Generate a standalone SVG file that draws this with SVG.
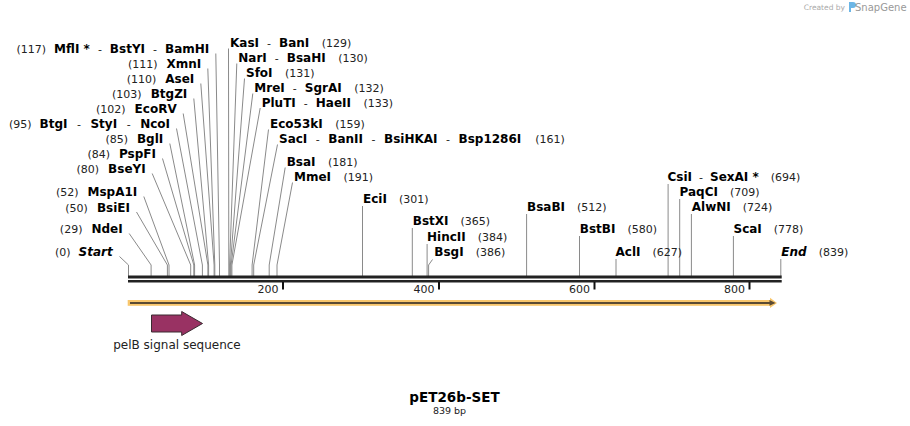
<svg xmlns="http://www.w3.org/2000/svg" width="910" height="426" viewBox="0 0 910 426">
<style>
text{font-family:"DejaVu Sans",Verdana,sans-serif;font-size:11px;fill:#222}
.b{font-weight:bold;font-size:12px;fill:#000}
.i{font-style:italic}
.c{fill:none;stroke:#8a8a8a;stroke-width:1}
.tk{stroke:#111;stroke-width:2}
</style>
<rect width="910" height="426" fill="#fff"/>
<g id="credit">
<text x="845" y="10" text-anchor="end" style="font-size:7.5px;fill:#aaa">Created by</text>
<path d="M849 2h4a3 3 0 0 1 0 6h-2v4h-2z" fill="#6cb6e6"/>
<text x="855" y="10.5" style="font-size:10px;fill:#999">SnapGene</text>
</g>
<g id="connectors">
<polyline class="c" points="215.8,53.5 219.5,265 219.5,276"/>
<polyline class="c" points="207.8,68.5 214.8,265 214.8,276"/>
<polyline class="c" points="200.8,83.5 214.1,265 214.1,276"/>
<polyline class="c" points="193.8,98.5 208.6,265 208.6,276"/>
<polyline class="c" points="183.2,113.5 207.9,265 207.9,276"/>
<polyline class="c" points="176.5,128.5 202.4,265 202.4,276"/>
<polyline class="c" points="169.8,143.5 194.6,265 194.6,276"/>
<polyline class="c" points="162.5,158.5 193.8,265 193.8,276"/>
<polyline class="c" points="152.2,173.5 190.7,265 190.7,276"/>
<polyline class="c" points="143.8,196.5 169,265 169,276"/>
<polyline class="c" points="136.5,212 167.4,265 167.4,276"/>
<polyline class="c" points="129.2,233.5 151.1,265 151.1,276"/>
<polyline class="c" points="119.5,256.5 128.5,265 128.5,276"/>
<polyline class="c" points="228.5,48.5 228.8,265 228.8,276"/>
<polyline class="c" points="236.8,63.5 229.6,265 229.6,276"/>
<polyline class="c" points="244.5,78.5 230.4,265 230.4,276"/>
<polyline class="c" points="252.8,93.5 231.1,265 231.1,276"/>
<polyline class="c" points="260.2,108 231.9,265 231.9,276"/>
<polyline class="c" points="268.5,129.5 252.1,265 252.1,276"/>
<polyline class="c" points="277.5,144.5 253.7,265 253.7,276"/>
<polyline class="c" points="285.2,167.5 269.2,265 269.2,276"/>
<polyline class="c" points="292.5,182.5 277,265 277,276"/>
<line class="c" x1="362.5" y1="206" x2="362.5" y2="276"/>
<line class="c" x1="412.3" y1="228" x2="412.3" y2="276"/>
<line class="c" x1="427.1" y1="244" x2="427.1" y2="276"/>
<polyline class="c" points="432.5,259.5 428.6,265 428.6,276"/>
<line class="c" x1="526.6" y1="214" x2="526.6" y2="276"/>
<line class="c" x1="579.5" y1="236" x2="579.5" y2="276"/>
<line class="c" x1="616" y1="259" x2="616" y2="276"/>
<line class="c" x1="668.1" y1="184" x2="668.1" y2="276"/>
<line class="c" x1="679.7" y1="199" x2="679.7" y2="276"/>
<line class="c" x1="691.4" y1="214" x2="691.4" y2="276"/>
<line class="c" x1="733.4" y1="236" x2="733.4" y2="276"/>
<line class="c" x1="780.8" y1="259" x2="780.8" y2="276"/>
</g>
<g id="sequence">
<rect x="128" y="275.5" width="653.7" height="3" fill="#222"/>
<rect x="128" y="280" width="653.7" height="2.5" fill="#222"/>
<line class="tk" x1="283" y1="282" x2="283" y2="289.5"/>
<line class="tk" x1="439" y1="282" x2="439" y2="289.5"/>
<line class="tk" x1="594.5" y1="282" x2="594.5" y2="289.5"/>
<line class="tk" x1="749.5" y1="282" x2="749.5" y2="289.5"/>
<text x="278.5" y="292.5" text-anchor="end">200</text>
<text x="434.5" y="292.5" text-anchor="end">400</text>
<text x="590" y="292.5" text-anchor="end">600</text>
<text x="745" y="292.5" text-anchor="end">800</text>
</g>
<g id="orf">
<rect x="127.7" y="300" width="645" height="5.8" fill="#f8c66c"/>
<polygon points="770,297.8 777,302.9 770,308" fill="#f8c66c"/>
<line x1="130" y1="302.9" x2="771" y2="302.9" stroke="#5a4a33" stroke-width="2"/>
<polygon points="769.5,300 775.5,302.9 769.5,305.8" fill="#5a4a33"/>
</g>
<g id="pelB">
<polygon points="151.5,315 181.7,315 181.7,311.5 202.5,323.5 181.7,335.5 181.7,332 151.5,332" fill="#993263" stroke="#3a2a30" stroke-width="1"/>
<text x="177" y="348.5" text-anchor="middle" style="font-size:12px">pelB signal sequence</text>
</g>
<g id="labels-left">
<g id="e117"><text x="209.3" y="53" text-anchor="end">(117)<tspan class="b" dx="8">MflI *</tspan><tspan dx="8">-</tspan><tspan class="b" dx="8">BstYI</tspan><tspan dx="8">-</tspan><tspan class="b" dx="8">BamHI</tspan></text></g>
<g id="e111"><text x="201.3" y="68" text-anchor="end">(111)<tspan class="b" dx="9">XmnI</tspan></text></g>
<g id="e110"><text x="194.3" y="83" text-anchor="end">(110)<tspan class="b" dx="9">AseI</tspan></text></g>
<g id="e103"><text x="187.3" y="98" text-anchor="end">(103)<tspan class="b" dx="9">BtgZI</tspan></text></g>
<g id="e102"><text x="176.7" y="113" text-anchor="end">(102)<tspan class="b" dx="9">EcoRV</tspan></text></g>
<g id="e95"><text x="170" y="128" text-anchor="end">(95)<tspan class="b" dx="8">BtgI</tspan><tspan dx="9.5">-</tspan><tspan class="b" dx="9.5">StyI</tspan><tspan dx="9.5">-</tspan><tspan class="b" dx="9.5">NcoI</tspan></text></g>
<g id="e85"><text x="163.3" y="143" text-anchor="end">(85)<tspan class="b" dx="9">BglI</tspan></text></g>
<g id="e84"><text x="156" y="158" text-anchor="end">(84)<tspan class="b" dx="9">PspFI</tspan></text></g>
<g id="e80"><text x="145.7" y="173" text-anchor="end">(80)<tspan class="b" dx="9">BseYI</tspan></text></g>
<g id="e52"><text x="137.3" y="196" text-anchor="end">(52)<tspan class="b" dx="9">MspA1I</tspan></text></g>
<g id="e50"><text x="130" y="211.5" text-anchor="end">(50)<tspan class="b" dx="9">BsiEI</tspan></text></g>
<g id="e29"><text x="122.7" y="233" text-anchor="end">(29)<tspan class="b" dx="9">NdeI</tspan></text></g>
<g id="e0"><text x="112.7" y="256" text-anchor="end">(0)<tspan class="b i" dx="8">Start</tspan></text></g>
</g>
<g id="labels-right">
<g id="e129"><text x="230" y="47"><tspan class="b">KasI</tspan><tspan dx="8">-</tspan><tspan class="b" dx="8">BanI</tspan><tspan dx="12.5">(129)</tspan></text></g>
<g id="e130"><text x="238.3" y="62"><tspan class="b">NarI</tspan><tspan dx="8">-</tspan><tspan class="b" dx="8">BsaHI</tspan><tspan dx="12.5">(130)</tspan></text></g>
<g id="e131"><text x="246" y="77"><tspan class="b">SfoI</tspan><tspan dx="12.5">(131)</tspan></text></g>
<g id="e132"><text x="254.3" y="92"><tspan class="b">MreI</tspan><tspan dx="8">-</tspan><tspan class="b" dx="8">SgrAI</tspan><tspan dx="12.5">(132)</tspan></text></g>
<g id="e133"><text x="261.7" y="106.5"><tspan class="b">PluTI</tspan><tspan dx="8">-</tspan><tspan class="b" dx="8">HaeII</tspan><tspan dx="12.5">(133)</tspan></text></g>
<g id="e159"><text x="270" y="128"><tspan class="b">Eco53kI</tspan><tspan dx="12.5">(159)</tspan></text></g>
<g id="e161"><text x="279" y="143"><tspan class="b">SacI</tspan><tspan dx="8.5">-</tspan><tspan class="b" dx="8.5">BanII</tspan><tspan dx="8.5">-</tspan><tspan class="b" dx="8.5">BsiHKAI</tspan><tspan dx="8.5">-</tspan><tspan class="b" dx="8.5">Bsp1286I</tspan><tspan dx="14">(161)</tspan></text></g>
<g id="e181"><text x="286.7" y="166"><tspan class="b">BsaI</tspan><tspan dx="12.5">(181)</tspan></text></g>
<g id="e191"><text x="294" y="181"><tspan class="b">MmeI</tspan><tspan dx="12.5">(191)</tspan></text></g>
<g id="e301"><text x="363" y="203"><tspan class="b">EciI</tspan><tspan dx="12">(301)</tspan></text></g>
<g id="e365"><text x="412.8" y="225"><tspan class="b">BstXI</tspan><tspan dx="12">(365)</tspan></text></g>
<g id="e384"><text x="427" y="241"><tspan class="b">HincII</tspan><tspan dx="12">(384)</tspan></text></g>
<g id="e386"><text x="434.3" y="256"><tspan class="b">BsgI</tspan><tspan dx="12">(386)</tspan></text></g>
<g id="e512"><text x="527" y="211"><tspan class="b">BsaBI</tspan><tspan dx="12">(512)</tspan></text></g>
<g id="e580"><text x="579.8" y="233"><tspan class="b">BstBI</tspan><tspan dx="12">(580)</tspan></text></g>
<g id="e627"><text x="615.5" y="256"><tspan class="b">AclI</tspan><tspan dx="12">(627)</tspan></text></g>
<g id="e694"><text x="667.5" y="181"><tspan class="b">CsiI</tspan><tspan dx="7">-</tspan><tspan class="b" dx="7">SexAI *</tspan><tspan dx="12">(694)</tspan></text></g>
<g id="e709"><text x="679.5" y="196"><tspan class="b">PaqCI</tspan><tspan dx="12">(709)</tspan></text></g>
<g id="e724"><text x="691.8" y="211"><tspan class="b">AlwNI</tspan><tspan dx="12">(724)</tspan></text></g>
<g id="e778"><text x="733.5" y="233"><tspan class="b">ScaI</tspan><tspan dx="12">(778)</tspan></text></g>
<g id="e839"><text x="781.3" y="256"><tspan class="b i">End</tspan><tspan dx="12">(839)</tspan></text></g>
</g>
<g id="title">
<text x="454.5" y="401.5" text-anchor="middle" style="font-weight:bold;font-size:13.5px;fill:#000">pET26b-SET</text>
<text x="449.5" y="414" text-anchor="middle" style="font-size:9.5px">839 bp</text>
</g>
</svg>
